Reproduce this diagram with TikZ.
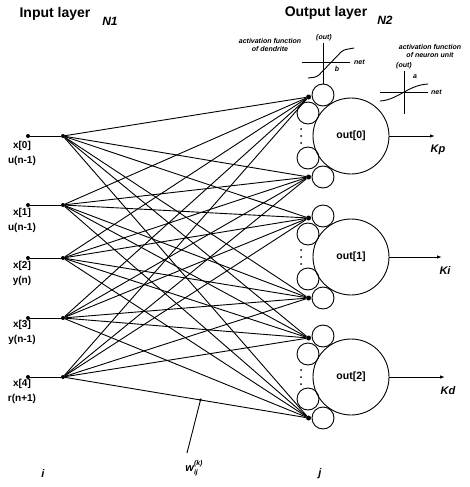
\documentclass[tikz,border=0pt]{standalone}
\usepackage{fontspec}
\setmainfont{Liberation Sans}
\usetikzlibrary{arrows.meta,calc}

\begin{document}
\begin{tikzpicture}[x=1pt,y=-1pt,
    >={Latex[length=5pt,width=3.5pt]},
    every node/.style={font=\bfseries},
    link/.style={line width=0.9pt},
    dot/.style={circle,fill,inner sep=0pt,minimum size=4pt},
    soma/.style={circle,draw,line width=0.9pt,minimum size=76pt,inner sep=0pt,
                 font=\bfseries\fontsize{10.5}{11}\selectfont},
    dend/.style={circle,draw,line width=0.9pt,minimum size=22pt,inner sep=0pt},
    head/.style={font=\bfseries\fontsize{14}{15}\selectfont},
    nlab/.style={font=\bfseries\itshape\fontsize{12}{13}\selectfont},
    inlab/.style={font=\bfseries\fontsize{10}{15}\selectfont,align=center,inner sep=0pt},
    klab/.style={font=\bfseries\itshape\fontsize{11}{12}\selectfont},
    tiny/.style={font=\bfseries\itshape\fontsize{7}{8}\selectfont,inner sep=0pt},
    ]
\useasboundingbox (0,0) rectangle (470,487);

% layer titles
\node[head] (tin)  at (55,14)  {Input layer};
\node[nlab] (n1)   at (110,21) {N1};
\node[head] (tout) at (326,13) {Output layer};
\node[nlab] (n2)   at (385,20) {N2};

% input units
\foreach \y [count=\i from 0] in {136,205,258,318,377} {
  \node[dot] (a\i) at (28,\y) {};
  \node[dot] (b\i) at (63,\y) {};
  \draw[link] (a\i) -- (b\i);
}
\node[inlab] (l0) at (22,153) {x[0]\\u(n-1)};
\node[inlab] (l1) at (22,220) {x[1]\\u(n-1)};
\node[inlab] (l2) at (22,273) {x[2]\\y(n)};
\node[inlab] (l3) at (22,332) {x[3]\\y(n-1)};
\node[inlab] (l4) at (22,391) {x[4]\\r(n+1)};

% output units with their dendrites
\foreach \n/\y/\e/\k in {0/136/435/Kp,1/257/442/Ki,2/377/445/Kd} {
  \node[soma] (o\n) at (351,\y) {out[\n]};
  \node[dend] (s\n-1) at ([shift={(-28,-41)}]o\n) {};
  \node[dend] (s\n-2) at ([shift={(-43,-23)}]o\n) {};
  \node[dend] (s\n-3) at ([shift={(-43,22)}]o\n) {};
  \node[dend] (s\n-4) at ([shift={(-28,41)}]o\n) {};
  \node[dot,minimum size=5pt] (h\n-1) at ([shift={(-3,2)}]s\n-1.west) {};
  \node[dot,minimum size=5pt] (h\n-4) at ([shift={(-3,0)}]s\n-4.west) {};
  \foreach \d in {-7,0,7}
    \fill ([shift={(-50,\d)}]o\n) circle (1pt);
  \coordinate (k\n) at (\e,\y);
  \draw[link,->] (o\n) -- (k\n);
  \node[klab] (kl\n) at ([shift={(3,14)}]k\n) {\k};
}

% weights
\foreach \i in {0,...,4}
  \foreach \n in {0,1,2} {
    \draw[link] (b\i) -- (h\n-1);
    \draw[link] (b\i) -- (h\n-4);
  }

% activation function of dendrite
\coordinate (fa) at (323,43);
\draw[link] (s0-1) -- (fa);
\node[tiny] (fo) at (324,38) {(out)};
\coordinate (fl) at (302,62);
\coordinate (fr) at (350,62);
\draw[line width=0.6pt] (fl) -- (fr);
\node[tiny,anchor=west] (fn) at ([xshift=4pt]fr) {net};
\draw[link,rounded corners=3pt] (308,78) -- (317,77) -- (343,50) -- (354,48);
\node[tiny] (fb) at (337,69) {b};
\node[tiny,align=center] (fd) at (270,45) {activation function\\of dendrite};

% activation function of neuron unit
\coordinate (ga) at (404,71);
\coordinate (gb) at (404,114);
\draw[link] (ga) -- (gb);
\node[tiny] (go) at (404,66) {(out)};
\coordinate (gl) at (380,92);
\coordinate (gr) at (428,92);
\draw[line width=0.6pt] (gl) -- (gr);
\node[tiny,anchor=west] (gn) at ([xshift=3pt]gr) {net};
\draw[link] (380,101) .. controls (398,100) and (408,85) .. (428,84);
\node[tiny] (gs) at (415,77) {a};
\node[tiny,align=center] (gd) at (430,51) {activation function\\of neuron unit};

% index labels
\node[klab] (li) at (43,474) {i};
\node[klab] (lj) at (320,474) {j};
\coordinate (wp) at ($(b4)!0.56!(h2-4)$);
\fill (wp) circle (1.5pt);
\node[klab] (wl) at (194,468) {w\rlap{\raisebox{-3pt}{\fontsize{7}{7}\selectfont ij}}\raisebox{6pt}{\fontsize{7}{7}\selectfont(k)}};
\coordinate (wq) at (187,453);
\draw[link] (wp) -- (wq);
\end{tikzpicture}
\end{document}
